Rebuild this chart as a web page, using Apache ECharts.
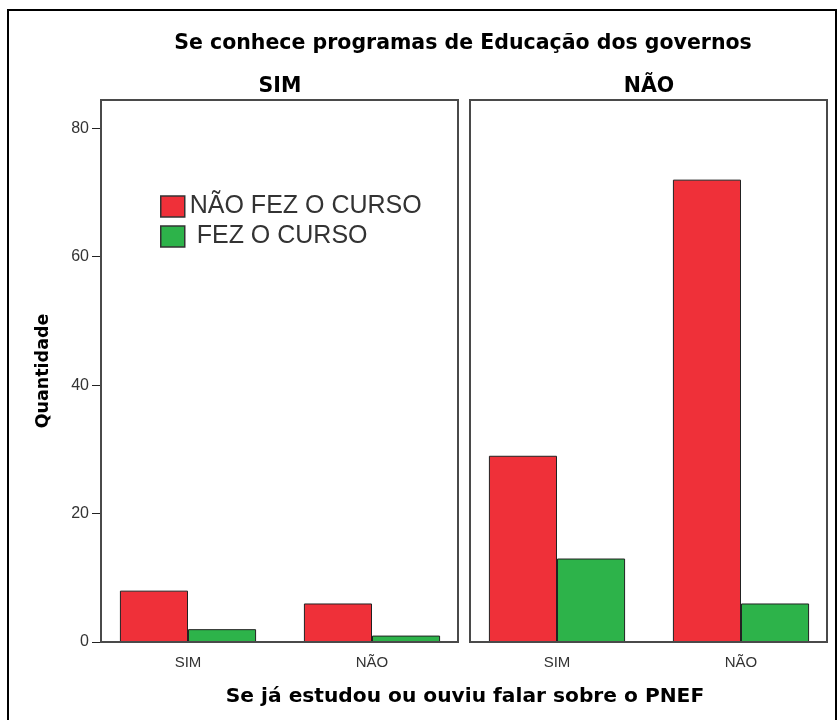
<!DOCTYPE html>
<html>
<head>
<meta charset="utf-8">
<script src="https://cdn.jsdelivr.net/npm/echarts@6/dist/echarts.min.js"></script>
<style>
  html, body { margin: 0; padding: 0; background: #fff; }
  #container { width: 838px; height: 720px; }
</style>
</head>
<body>
<div id="container"></div>
<script type="text/javascript">
    // dados
    var categorias = ['SIM', 'NÃO'];
    var paineis = ['SIM', 'NÃO'];
    var naoFezSim = [8, 6];      // painel SIM
    var fezSim = [2, 1];
    var naoFezNao = [29, 72];    // painel NÃO
    var fezNao = [13, 6];
    var yTicks = [0, 20, 40, 60, 80];
    var nomeNaoFez = 'NÃO FEZ O CURSO';
    var nomeFez = ' FEZ O CURSO';

    var vermelho = '#ef3039';
    var verde = '#2db34a';
    var fonte = '"Liberation Sans", Arial, sans-serif';
    var fonteTitulo = '"DejaVu Sans", Verdana, sans-serif';

    var myChart = echarts.init(document.getElementById('container'));

    function eixoX(i) {
        return {
            type: 'category',
            gridIndex: i,
            data: categorias,
            axisLine: { show: false },
            axisTick: { alignWithLabel: true, length: 10, lineStyle: { color: '#222' } },
            axisLabel: { color: '#333', fontSize: 15, fontFamily: fonte, margin: 13 }
        };
    }
    function eixoY(i) {
        return {
            type: 'value',
            gridIndex: i,
            min: 0,
            max: 84.4,
            offset: -5,
            splitLine: { show: false },
            axisLine: { show: false },
            axisTick: { show: i === 0, length: 9, customValues: yTicks, lineStyle: { color: '#222' } },
            axisLabel: { show: i === 0, customValues: yTicks, color: '#333', fontSize: 16, fontFamily: fonte, margin: 12 },
            name: i === 0 ? 'Quantidade' : '',
            nameLocation: 'middle',
            nameGap: 49,
            nameTextStyle: { fontSize: 17.5, fontWeight: 'bold', color: '#000', fontFamily: fonteTitulo }
        };
    }
    function barra(nome, dados, cor, i) {
        return {
            name: nome,
            type: 'bar',
            xAxisIndex: i,
            yAxisIndex: i,
            data: dados,
            barGap: '0%',
            barCategoryGap: '26%',
            itemStyle: { color: cor, borderColor: '#222', borderWidth: 1 }
        };
    }
    function moldura(x) {
        return { type: 'rect', silent: true, z: 90,
                 shape: { x: x, y: 100, width: 357, height: 542 },
                 style: { fill: null, stroke: '#4a4a4a', lineWidth: 2 } };
    }
    var tituloStyle = { fontSize: 20.5, fontWeight: 'bold', color: '#000', fontFamily: fonteTitulo };

    var option = {
        backgroundColor: '#fff',
        animation: false,
        title: [
            { text: 'Se conhece programas de Educação dos governos', left: 458, top: 28, textAlign: 'center', textStyle: tituloStyle },
            { text: paineis[0], left: 275, top: 71, textAlign: 'center', textStyle: tituloStyle },
            { text: paineis[1], left: 644, top: 71, textAlign: 'center', textStyle: tituloStyle },
            { text: 'Se já estudou ou ouviu falar sobre o PNEF', left: 460, top: 682, textAlign: 'center',
              textStyle: { fontSize: 20.2, fontWeight: 'bold', color: '#000', fontFamily: fonteTitulo } }
        ],
        legend: {
            orient: 'vertical',
            left: 160,
            top: 194,
            padding: 0,
            icon: 'rect',
            itemWidth: 24,
            itemHeight: 21,
            itemGap: 5,
            data: [nomeNaoFez, nomeFez],
            itemStyle: { borderColor: '#333', borderWidth: 1.5 },
            textStyle: { fontSize: 25, lineHeight: 25, color: '#333', fontFamily: fonte }
        },
        grid: [
            { left: 96, top: 100, width: 368, height: 542 },
            { left: 465, top: 100, width: 368, height: 542 }
        ],
        xAxis: [eixoX(0), eixoX(1)],
        yAxis: [eixoY(0), eixoY(1)],
        series: [
            barra(nomeNaoFez, naoFezSim, vermelho, 0),
            barra(nomeFez, fezSim, verde, 0),
            barra(nomeNaoFez, naoFezNao, vermelho, 1),
            barra(nomeFez, fezNao, verde, 1)
        ],
        graphic: [
            moldura(101),
            moldura(470),
            { type: 'rect', silent: true, z: 100,
              shape: { x: 8, y: 10, width: 828, height: 730 },
              style: { fill: null, stroke: '#000', lineWidth: 2 } }
        ]
    };

    myChart.setOption(option);
</script>
</body>
</html>
